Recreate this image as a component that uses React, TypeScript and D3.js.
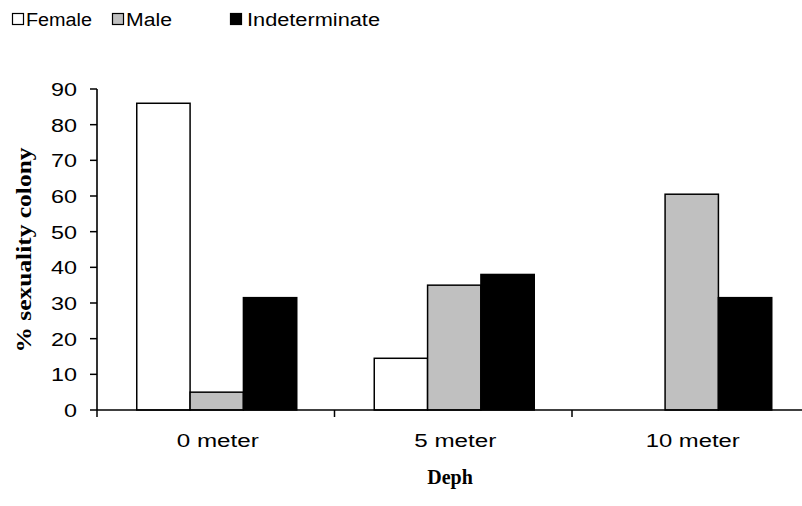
import React from "react";
import * as d3 from "d3";

const categories = ["0 meter", "5 meter", "10 meter"];
const seriesNames = ["Female", "Male", "Indeterminate"];
const female = [86, 14.5, 0];
const male = [5, 35, 60.5];
const indeterminate = [31.5, 38, 31.5];
const yTicks = [0, 10, 20, 30, 40, 50, 60, 70, 80, 90];
const colors = ["#ffffff", "#c0c0c0", "#000000"];

const W = 802;
const H = 506;
const SANS = "'Liberation Sans', Arial, sans-serif";
const SERIF = "'Liberation Serif', 'Times New Roman', serif";

export default function App() {
  const left = 97;
  const top = 89;
  const bottom = 410;
  const catWidth = 237.5;
  const x = d3.scaleBand<string>().domain(categories).range([left, left + catWidth * categories.length]);
  const y = d3.scaleLinear().domain([0, 90]).range([bottom, top]);
  const groupW = 160;
  const xs = d3.scaleBand<string>().domain(seriesNames).range([0, groupW]);
  const series = [female, male, indeterminate];

  const legendItems = [
    { name: "Female", sx: 12, tx: 26, tw: 66 },
    { name: "Male", sx: 112, tx: 126, tw: 46 },
    { name: "Indeterminate", sx: 230, tx: 247, tw: 133 },
  ];

  return (
    <svg width={W} height={H} style={{ position: "absolute", left: 0, top: 0, background: "#fff" }}>
      <rect x={0} y={0} width={W} height={H} fill="#fff" />
      {/* legend */}
      {legendItems.map((it, i) => (
        <g key={it.name}>
          <rect x={it.sx + 0.5} y={13.5} width={11} height={11} fill={colors[i]} stroke="#000" strokeWidth={1.2} />
          <text x={it.tx} y={26} fontFamily={SANS} fontSize={18} textLength={it.tw} lengthAdjust="spacingAndGlyphs" fill="#000">
            {it.name}
          </text>
        </g>
      ))}
      {/* bars */}
      {categories.map((c, ci) => (
        <g key={c}>
          {series.map((vals, si) => {
            const bx = (x(c) as number) + (x.bandwidth() - groupW) / 2 + 1 + (xs(seriesNames[si]) as number);
            const by = y(vals[ci]);
            return (
              <rect
                key={si}
                x={bx}
                y={by}
                width={xs.bandwidth()}
                height={bottom - by}
                fill={colors[si]}
                stroke="#000"
                strokeWidth={1.5}
              />
            );
          })}
        </g>
      ))}
      {/* y axis */}
      <line x1={left} x2={left} y1={top} y2={bottom} stroke="#000" strokeWidth={1.6} />
      {yTicks.map((t) => (
        <g key={t}>
          <line x1={left - 7} x2={left} y1={y(t)} y2={y(t)} stroke="#000" strokeWidth={1.5} />
          <text
            x={77}
            y={y(t) + 7}
            textAnchor="end"
            fontFamily={SANS}
            fontSize={18}
            textLength={String(t).length * 13}
            lengthAdjust="spacingAndGlyphs"
            fill="#000"
          >
            {t}
          </text>
        </g>
      ))}
      {/* x axis */}
      <line x1={left} x2={W} y1={bottom} y2={bottom} stroke="#000" strokeWidth={1.6} />
      {categories.map((c) => (
        <line key={"t" + c} x1={x(c) as number} x2={x(c) as number} y1={bottom} y2={bottom + 7} stroke="#000" strokeWidth={1.5} />
      ))}
      {categories.map((c) => (
        <text
          key={"l" + c}
          x={(x(c) as number) + x.bandwidth() / 2 + 2}
          y={447}
          textAnchor="middle"
          fontFamily={SANS}
          fontSize={18}
          textLength={c.length === 7 ? 82 : 94}
          lengthAdjust="spacingAndGlyphs"
          fill="#000"
        >
          {c}
        </text>
      ))}
      {/* axis titles */}
      <text x={450} y={484} textAnchor="middle" fontFamily={SERIF} fontWeight="bold" fontSize={20} fill="#000">
        Deph
      </text>
      <text
        transform={`translate(31,250) rotate(-90)`}
        textAnchor="middle"
        fontFamily={SERIF}
        fontWeight="bold"
        fontSize={20}
        textLength={205}
        lengthAdjust="spacingAndGlyphs"
        fill="#000"
      >
        % sexuality colony
      </text>
    </svg>
  );
}
